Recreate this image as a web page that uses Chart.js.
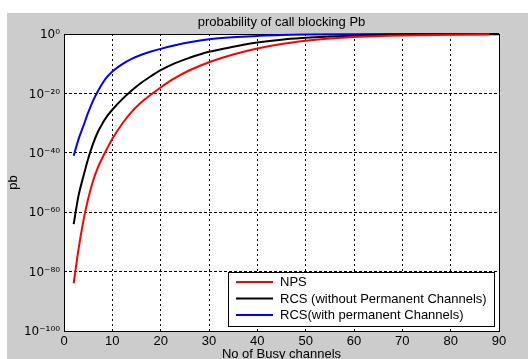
<!DOCTYPE html>
<html><head><meta charset="utf-8">
<script src="https://cdn.jsdelivr.net/npm/chart.js@4"></script>
<style>
html,body{margin:0;padding:0;background:#fff;overflow:hidden}
#wrap{position:relative;width:528px;height:359px;overflow:hidden}
canvas{display:block}
</style></head>
<body><div id="wrap"><canvas id="c" width="528" height="362"></canvas></div>
<script>
// ---- data ----
const seriesNames = ['NPS', 'RCS (without Permanent Channels)', 'RCS(with permanent Channels)'];
const seriesColors = ['#ff0000', '#000000', '#0000ff'];

const xNPS = [2, 3, 4, 5, 6, 7, 8, 9, 10, 12, 14, 16, 18, 20, 23, 26, 30, 35, 40, 45, 50, 55, 60, 70, 80, 88];
const pbNPS = [1e-84, 3.2e-73, 1e-63, 3.2e-56, 3.2e-50, 1e-45, 3.2e-42, 5e-39, 5e-36, 5e-31, 6.3e-27, 1e-23, 4e-21, 1e-18,
  1.6e-15, 6.3e-13, 3.2e-10, 1.26e-7, 1.26e-5, 4e-4, 5e-3, 0.032, 0.1, 0.32, 0.56, 0.89];

const xRCS = [2, 3, 4, 5, 6, 7, 8, 9, 10, 12, 14, 16, 18, 20, 23, 26, 30, 35, 40, 45, 50, 55, 60, 70, 80, 90];
const pbRCS = [1e-64, 3.2e-55, 1e-48, 1e-42, 1e-37, 1e-33, 1e-30, 3.2e-28, 3.2e-26, 1e-22, 1e-19, 4e-17, 6.3e-15, 6.3e-13,
  1.6e-10, 1e-8, 1e-6, 5e-5, 1.26e-3, 0.0126, 0.05, 0.14, 0.28, 0.56, 0.79, 0.89];

const xRCSP = [2, 3, 4, 5, 6, 7, 8, 9, 10, 12, 14, 16, 18, 20, 23, 26, 30, 35, 40, 45, 50, 60, 70, 80, 90];
const pbRCSP = [1e-41, 3.2e-36, 1e-31, 3.2e-27, 3.2e-23, 5e-20, 3.2e-17, 5e-15, 2.5e-13, 6.3e-11, 4e-9, 1e-7, 1.26e-6,
  1e-5, 1.6e-4, 1.6e-3, 0.016, 0.08, 0.22, 0.5, 0.71, 0.89, 0.95, 0.98, 1];

const xTickValues = [0, 10, 20, 30, 40, 50, 60, 70, 80, 90];
const yTickValues = [1e-100, 1e-80, 1e-60, 1e-40, 1e-20, 1];
const yTickLabels = ['10\u207B\u00B9\u2070\u2070', '10\u207B\u2078\u2070', '10\u207B\u2076\u2070', '10\u207B\u2074\u2070', '10\u207B\u00B2\u2070', '10\u2070'];

const titleText = 'probability of call blocking Pb';
const xTitle = 'No of Busy channels';
const yTitle = 'pb';

// ---- chart ----
const FONT = "'Liberation Sans', Arial, Helvetica, sans-serif";
const pairs = (xs, ys) => xs.map((x, i) => ({x: x, y: ys[i]}));
const allX = [xNPS, xRCS, xRCSP];
const allY = [pbNPS, pbRCS, pbRCSP];

const bgPlugin = {
  id: 'figureBg',
  beforeDraw(chart) {
    const ctx = chart.ctx, ca = chart.chartArea;
    ctx.save();
    ctx.fillStyle = '#fff';
    ctx.fillRect(0, 0, chart.width, chart.height);
    ctx.fillStyle = '#cccccc';
    ctx.fillRect(7, 13, chart.width - 7, chart.height - 13);
    ctx.fillStyle = '#fff';
    ctx.fillRect(ca.left, ca.top, ca.right - ca.left, ca.bottom - ca.top);
    ctx.restore();
  },
  beforeDatasetsDraw(chart) {
    const ctx = chart.ctx, ca = chart.chartArea;
    ctx.save();
    ctx.strokeStyle = '#000';
    ctx.lineWidth = 1;
    ctx.setLineDash([]);
    ctx.strokeRect(Math.round(ca.left) + 0.5, Math.round(ca.top) + 0.5,
      Math.round(ca.right - ca.left), Math.round(ca.bottom - ca.top));
    ctx.restore();
  }
};

const legendPlugin = {
  id: 'boxLegend',
  afterDraw(chart) {
    const ctx = chart.ctx, ca = chart.chartArea;
    ctx.save();
    ctx.font = '13px ' + FONT;
    const ds = chart.data.datasets;
    let maxW = 0;
    ds.forEach(d => { maxW = Math.max(maxW, ctx.measureText(d.label).width); });
    const rowH = 16.5;
    const w = Math.round(52 + maxW + 7);
    const h = Math.round(rowH * ds.length + 4);
    const x0 = Math.round(ca.right - 5 - w), y0 = Math.round(ca.bottom - 5 - h);
    ctx.fillStyle = '#fff';
    ctx.fillRect(x0, y0, w, h);
    ctx.strokeStyle = '#000';
    ctx.lineWidth = 1;
    ctx.strokeRect(x0 + 0.5, y0 + 0.5, w, h);
    ds.forEach((d, i) => {
      const cy = y0 + 10 + i * rowH;
      ctx.strokeStyle = d.borderColor;
      ctx.lineWidth = 2;
      ctx.beginPath();
      ctx.moveTo(x0 + 8, cy);
      ctx.lineTo(x0 + 45, cy);
      ctx.stroke();
      ctx.fillStyle = '#000';
      ctx.textBaseline = 'middle';
      ctx.textAlign = 'left';
      ctx.fillText(d.label, x0 + 52, cy + 0.5);
    });
    ctx.restore();
  }
};

new Chart(document.getElementById('c'), {
  type: 'line',
  data: {
    datasets: seriesNames.map((name, i) => ({
      label: name,
      data: pairs(allX[i], allY[i]),
      borderColor: seriesColors[i],
      backgroundColor: seriesColors[i],
      borderWidth: 2,
      pointRadius: 0,
      fill: false,
      cubicInterpolationMode: 'monotone',
      clip: 3
    }))
  },
  options: {
    responsive: false,
    animation: false,
    events: [],
    layout: {padding: {left: 0, right: 29, top: 0, bottom: 0}},
    plugins: {
      legend: {display: false},
      tooltip: {enabled: false},
      title: {
        display: true, text: titleText, color: '#000', fullSize: false,
        font: {family: FONT, size: 13, weight: 'normal'},
        padding: {top: 15, bottom: 3.4}
      }
    },
    scales: {
      x: {
        type: 'linear', min: 0, max: 90,
        afterBuildTicks: s => { s.ticks = xTickValues.map(v => ({value: v})); },
        afterFit: s => { s.height = 31; },
        ticks: {color: '#000', font: {family: FONT, size: 13}, padding: 3, autoSkip: false, maxRotation: 0},
        grid: {color: '#000', lineWidth: 1, drawTicks: false, borderDash: [2, 3]},
        border: {display: false, dash: [2, 3]},
        title: {display: true, text: xTitle, color: '#000', font: {family: FONT, size: 13}, padding: {top: 0, bottom: 0}}
      },
      y: {
        type: 'logarithmic', min: 1e-100, max: 1,
        afterBuildTicks: s => { s.ticks = yTickValues.map(v => ({value: v})); },
        afterFit: s => { s.width = 64; },
        ticks: {
          color: '#000', font: {family: "'DejaVu Sans', sans-serif", size: 12}, padding: 4, autoSkip: false,
          labelOffset: 1,
          callback: (v, i) => yTickLabels[i]
        },
        grid: {color: '#000', lineWidth: 1, drawTicks: false, borderDash: [3, 2]},
        border: {display: false, dash: [3, 2]},
        title: {display: true, text: yTitle, color: '#000', font: {family: FONT, size: 13}, padding: {top: 6, bottom: 0}}
      }
    }
  },
  plugins: [bgPlugin, legendPlugin]
});
</script>
</body></html>
